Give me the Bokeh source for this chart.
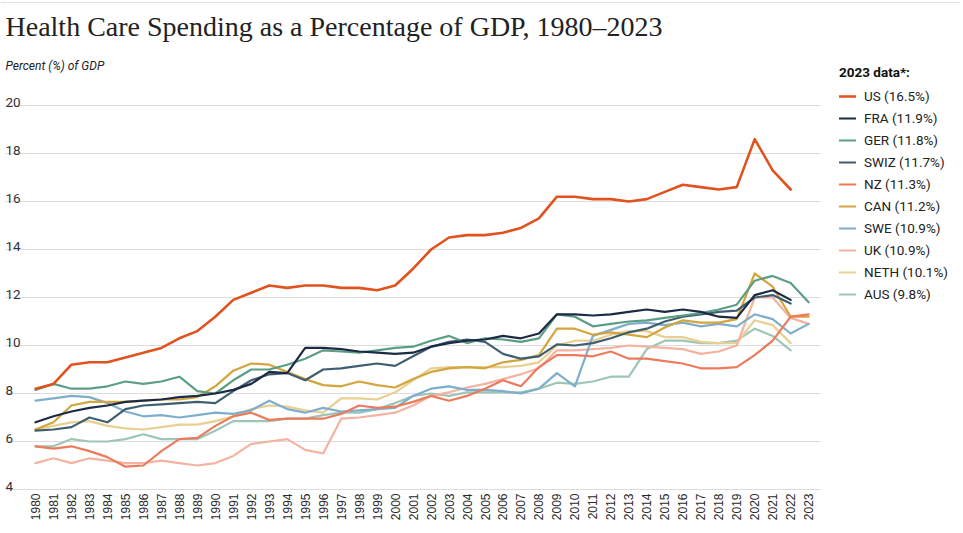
import math
from bokeh.plotting import figure
from bokeh.models import ColumnDataSource, Legend, LegendItem, Range1d
from bokeh.core.properties import value
from bokeh.embed import file_html
from bokeh.resources import INLINE

# ---------------- data ----------------
years = list(range(1980, 2024))
year_labels = [str(y) for y in years]
y_ticks = [4, 6, 8, 10, 12, 14, 16, 18, 20]
y_tick_labels = [str(t) for t in y_ticks]

countries = ["US", "FRA", "GER", "SWIZ", "NZ", "CAN", "SWE", "UK", "NETH", "AUS"]
legend_labels = ["US (16.5%)", "FRA (11.9%)", "GER (11.8%)", "SWIZ (11.7%)",
                 "NZ (11.3%)", "CAN (11.2%)", "SWE (10.9%)", "UK (10.9%)",
                 "NETH (10.1%)", "AUS (9.8%)"]

us = [8.2, 8.4, 9.2, 9.3, 9.3, 9.5, 9.7, 9.9, 10.3, 10.6,
      11.2, 11.9, 12.2, 12.5, 12.4, 12.5, 12.5, 12.4, 12.4, 12.3,
      12.5, 13.2, 14.0, 14.5, 14.6, 14.6, 14.7, 14.9, 15.3, 16.2,
      16.2, 16.1, 16.1, 16.0, 16.1, 16.4, 16.7, 16.6, 16.5, 16.6,
      18.6, 17.3, 16.5]
fra = [6.8, 7.05, 7.25, 7.4, 7.5, 7.65, 7.7, 7.75, 7.85, 7.9,
       8.0, 8.15, 8.4, 8.9, 8.85, 9.9, 9.9, 9.85, 9.75, 9.7,
       9.65, 9.7, 9.95, 10.1, 10.2, 10.25, 10.4, 10.3, 10.5, 11.3,
       11.3, 11.25, 11.3, 11.4, 11.5, 11.4, 11.5, 11.4, 11.2, 11.15,
       12.1, 12.3, 11.9]
ger = [8.15, 8.4, 8.2, 8.2, 8.3, 8.5, 8.4, 8.5, 8.7, 8.1,
       8.0, 8.55, 9.0, 9.0, 9.2, 9.45, 9.8, 9.75, 9.7, 9.8,
       9.9, 9.95, 10.2, 10.4, 10.1, 10.3, 10.25, 10.15, 10.3, 11.3,
       11.2, 10.8, 10.9, 11.0, 11.05, 11.15, 11.25, 11.35, 11.5, 11.7,
       12.7, 12.9, 12.6, 11.8]
swiz = [6.45, 6.5, 6.6, 7.0, 6.8, 7.35, 7.5, 7.55, 7.6, 7.65,
        7.6, 8.1, 8.55, 8.8, 8.85, 8.55, 9.0, 9.05, 9.15, 9.25,
        9.15, 9.55, 9.95, 10.15, 10.25, 10.15, 9.65, 9.45, 9.55, 10.05,
        10.0, 10.1, 10.3, 10.55, 10.7, 11.0, 11.2, 11.3, 11.4, 11.45,
        12.0, 12.1, 11.75]
nz = [5.8, 5.7, 5.8, 5.6, 5.35, 4.95, 5.0, 5.6, 6.1, 6.15,
      6.65, 7.05, 7.2, 6.9, 6.95, 6.95, 6.95, 7.15, 7.5, 7.4,
      7.45, 7.65, 7.9, 7.7, 7.9, 8.2, 8.55, 8.3, 9.1, 9.6,
      9.6, 9.55, 9.75, 9.45, 9.45, 9.35, 9.25, 9.05, 9.05, 9.1,
      9.6, 10.2, 11.2, 11.3]
can = [6.5, 6.8, 7.5, 7.65, 7.65, 7.65, 7.7, 7.75, 7.75, 7.85,
       8.3, 8.95, 9.25, 9.2, 8.9, 8.6, 8.35, 8.3, 8.5, 8.35,
       8.25, 8.6, 8.9, 9.05, 9.1, 9.05, 9.3, 9.4, 9.6, 10.7,
       10.7, 10.45, 10.55, 10.45, 10.35, 10.75, 11.05, 10.95, 10.95, 11.1,
       13.0, 12.45, 11.2, 11.2]
swe = [7.7, 7.8, 7.9, 7.85, 7.6, 7.25, 7.05, 7.1, 7.0, 7.1,
       7.2, 7.15, 7.3, 7.7, 7.35, 7.2, 7.4, 7.25, 7.3, 7.35,
       7.4, 7.9, 8.2, 8.3, 8.15, 8.15, 8.1, 8.0, 8.2, 8.85,
       8.3, 10.4, 10.65, 10.9, 10.95, 10.85, 10.95, 10.8, 10.9, 10.8,
       11.3, 11.1, 10.5, 10.9]
uk = [5.1, 5.3, 5.1, 5.3, 5.2, 5.1, 5.1, 5.2, 5.1, 5.0,
      5.1, 5.4, 5.9, 6.0, 6.1, 5.65, 5.5, 6.95, 7.0, 7.1,
      7.2, 7.5, 7.9, 8.05, 8.25, 8.4, 8.6, 8.8, 9.05, 9.8,
      9.8, 9.85, 9.9, 10.0, 9.95, 9.9, 9.85, 9.65, 9.75, 10.0,
      12.0, 12.0, 11.15, 10.9]
neth = [6.5, 6.65, 6.8, 6.85, 6.65, 6.55, 6.5, 6.6, 6.7, 6.7,
        6.85, 7.05, 7.35, 7.5, 7.45, 7.3, 7.2, 7.8, 7.8, 7.75,
        8.05, 8.55, 9.05, 9.1, 9.1, 9.1, 9.1, 9.15, 9.3, 10.0,
        10.2, 10.2, 10.45, 10.6, 10.6, 10.35, 10.35, 10.15, 10.1, 10.1,
        11.05, 10.85, 10.1]
aus = [5.8, 5.8, 6.1, 6.0, 6.0, 6.1, 6.3, 6.1, 6.1, 6.1,
       6.45, 6.85, 6.85, 6.85, 6.95, 6.95, 7.1, 7.2, 7.2, 7.35,
       7.6, 7.9, 8.0, 7.9, 8.05, 8.05, 8.05, 8.05, 8.2, 8.45,
       8.4, 8.5, 8.7, 8.7, 9.85, 10.2, 10.2, 10.1, 10.1, 10.2,
       10.7, 10.4, 9.8]

series = {"US": us, "FRA": fra, "GER": ger, "SWIZ": swiz, "NZ": nz,
          "CAN": can, "SWE": swe, "UK": uk, "NETH": neth, "AUS": aus}

colors = {"US": "#E0521E", "FRA": "#1C2B45", "GER": "#5C9E84",
          "SWIZ": "#3F5F70", "NZ": "#EC7A5C", "CAN": "#D3A53C",
          "SWE": "#7EAECB", "UK": "#F4B3A1", "NETH": "#E8CF92",
          "AUS": "#9DC6B6"}

title_text = "Health Care Spending as a Percentage of GDP, 1980\u20132023"
subtitle_text = "Percent (%) of GDP"
legend_title = "2023 data*:"

# ---------------- geometry (pixels) ----------------
W, H = 960, 530
PX_YEAR = 17.98               # pixels per year
PX_UNIT = 24.0                # pixels per percentage point
FIRST_YEAR_PX = 35            # where the first year sits
BASE_PX = 489                 # where the lowest grid line sits
x_start = years[0] - FIRST_YEAR_PX / PX_YEAR
x_end = x_start + W / PX_YEAR
y_start = y_ticks[0] - (H - BASE_PX) / PX_UNIT
y_end = y_start + H / PX_UNIT


def x_at(px):
    return x_start + px / PX_YEAR


def y_at(px_from_top):
    return y_end - px_from_top / PX_UNIT


p = figure(width=W, height=H, output_backend="svg", toolbar_location=None,
           x_range=Range1d(x_start, x_end), y_range=Range1d(y_start, y_end),
           x_axis_location=None, y_axis_location=None,
           min_border=0)
p.outline_line_color = None
p.background_fill_color = "white"
p.border_fill_color = "white"
p.xgrid.visible = False
p.ygrid.visible = False

# thin rule across the top of the page
p.segment(x0=[x_start], x1=[x_end], y0=[y_at(2)], y1=[y_at(2)],
          line_color="#e2e2e2", line_width=1)

# horizontal grid lines at the y ticks
gsrc = ColumnDataSource(dict(x0=[x_at(5)] * len(y_ticks), x1=[x_at(820)] * len(y_ticks),
                             y=y_ticks))
p.segment(x0="x0", x1="x1", y0="y", y1="y", source=gsrc,
          line_color="#dcdcdc", line_width=1)

# y tick labels drawn just above each grid line
ysrc = ColumnDataSource(dict(x=[x_at(5)] * len(y_ticks), y=y_ticks, text=y_tick_labels))
p.text(x="x", y="y", text="text", source=ysrc, text_font=value("Roboto"),
       text_font_size="13.5px", text_color="#333333", text_align="left",
       text_baseline="alphabetic", y_offset=-3)

# x tick labels: vertical year labels under the lowest grid line
xsrc = ColumnDataSource(dict(x=years, y=[y_ticks[0]] * len(years), text=year_labels))
p.text(x="x", y="y", text="text", source=xsrc, angle=math.pi / 2,
       text_font=value("Liberation Sans"), text_font_size="12px",
       text_color="#2a2a2a", text_align="right", text_baseline="middle",
       y_offset=4)

renderers = {}
for name in reversed(countries):
    vals = series[name]
    r = p.line(years[:len(vals)], vals, line_color=colors[name],
               line_width=2.6 if name == "US" else 2.2,
               line_join="round", line_cap="round")
    renderers[name] = r

items = [LegendItem(label=lab, renderers=[renderers[c]])
         for c, lab in zip(countries, legend_labels)]
legend = Legend(items=items, location=(839, 226), title=legend_title,
                title_text_font="Roboto", title_text_font_style="bold",
                title_text_font_size="13.5px", title_text_color="#111111",
                title_standoff=6,
                label_text_font="Roboto", label_text_font_size="13.5px",
                label_text_color="#222222",
                glyph_width=17, glyph_height=20, label_height=20,
                spacing=2, label_standoff=8, padding=0, margin=0,
                border_line_color=None, background_fill_alpha=0)
p.add_layout(legend)

# title and subtitle
p.text(x=[x_at(5)], y=[y_at(26)], text=[title_text],
       text_font=value("Liberation Serif"), text_font_size="28px",
       text_color="#222222", text_baseline="alphabetic", text_align="left")
p.text(x=[x_at(5)], y=[y_at(65)], text=[subtitle_text],
       text_font=value("Roboto"), text_font_style="italic", text_font_size="12px",
       text_color="#222222", text_baseline="alphabetic", text_align="left")

open("out.html", "w").write(file_html(p, INLINE))
